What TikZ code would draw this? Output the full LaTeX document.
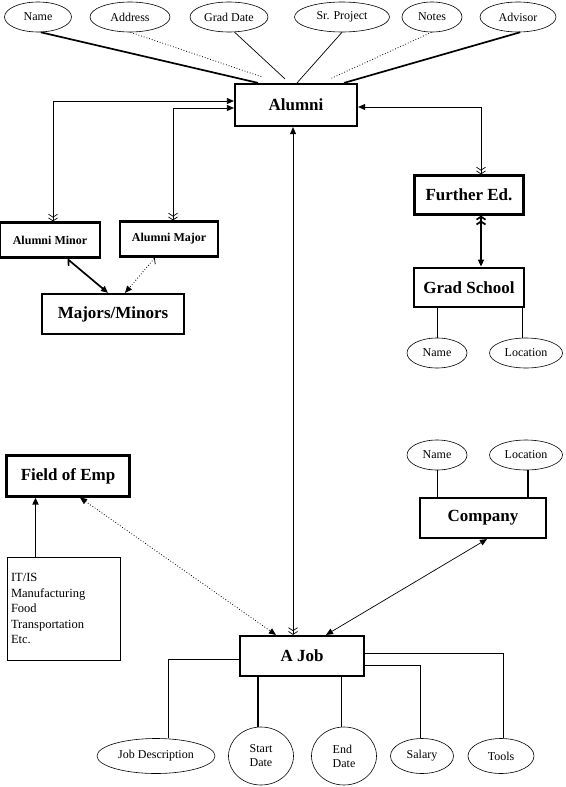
\documentclass[tikz,border=0pt]{standalone}
\usepackage{fontspec}
\setmainfont{Liberation Serif}
\usetikzlibrary{arrows.meta,positioning,shapes.geometric}
\tikzset{
  entity/.style={draw, line width=2.2pt, inner sep=2pt, align=center,
                 font=\fontsize{17}{19}\selectfont\bfseries},
  subentity/.style={entity, font=\fontsize{12}{14}\selectfont\bfseries},
  attr/.style={draw, ellipse, line width=0.6pt, inner sep=0pt,
               font=\fontsize{12}{14}\selectfont},
  rel/.style={line width=0.7pt},
  relthick/.style={line width=1.7pt},
  reldot/.style={line width=0.8pt, dotted}
}
\begin{document}
\begin{tikzpicture}[x=1pt, y=-1pt]
  \useasboundingbox (0,0) rectangle (565,787);
  % entities
  \node[entity, minimum width=122, minimum height=42] (alumni) at (296,105) {Alumni};
  \node[subentity, minimum width=100, minimum height=35] (minor) at (50,240) {Alumni Minor};
  \node[subentity, minimum width=98, minimum height=35] (major) at (169,239) {Alumni Major};
  \node[entity, minimum width=142, minimum height=40] (majmin) at (113,314) {Majors/Minors};
  \node[entity, minimum width=109, minimum height=39] (furthered) at (469,195) {Further Ed.};
  \node[entity, minimum width=110, minimum height=39, below=51pt of furthered] (gradschool) {Grad School};
  \node[entity, minimum width=123, minimum height=41] (fieldemp) at (68,476) {Field of Emp};
  \node[draw, rel, minimum width=113, minimum height=103, text width=105, align=left,
        font=\fontsize{12.5}{15.5}\selectfont] (fieldlist) at (63.5,608.5)
        {IT/IS\\Manufacturing\\Food\\Transportation\\Etc.};
  \node[entity, minimum width=126, minimum height=40] (company) at (483,518) {Company};
  \node[entity, minimum width=124, minimum height=40] (job) at (302,656) {A Job};
  % alumni attributes
  \node[attr, minimum width=67, minimum height=30] (aname) at (38,17) {Name};
  \node[attr, minimum width=80, minimum height=30] (addr) at (130,17) {Address};
  \node[attr, minimum width=78, minimum height=30] (gdate) at (229,17) {Grad Date};
  \node[attr, minimum width=95, minimum height=30] (sproj) at (342,17) {Sr. Project};
  \node[attr, minimum width=60, minimum height=30] (notes) at (432,17) {Notes};
  \node[attr, minimum width=76, minimum height=30] (advisor) at (518,17) {Advisor};
  % grad school and company attributes
  \node[attr, minimum width=60, minimum height=30] (gsname) at (437,353) {Name};
  \node[attr, minimum width=73, minimum height=30] (gsloc) at (526,353) {Location};
  \node[attr, minimum width=60, minimum height=30] (coname) at (437,455) {Name};
  \node[attr, minimum width=73, minimum height=30] (coloc) at (526,455) {Location};
  % job attributes
  \node[attr, minimum width=118, minimum height=35] (jobdesc) at (156,756) {Job Description};
  \node[attr, minimum width=65, minimum height=58, align=left] (start) at (261,756) {Start\\Date};
  \node[attr, minimum width=65, minimum height=58, align=left] (enddate) at (344,756) {End\\Date};
  \node[attr, minimum width=63, minimum height=35] (salary) at (422,756) {Salary};
  \node[attr, minimum width=66, minimum height=35] (tools) at (501,756) {Tools};

  % attribute lines to alumni
  \draw[relthick] (aname.-80) -- ([xshift=-38pt]alumni.north);
  \draw[reldot] (addr.-88) -- ([xshift=-34pt,yshift=6pt]alumni.north);
  \draw[rel] (gdate.-70) -- ([xshift=-11pt,yshift=4pt]alumni.north);
  \draw[rel] (sproj.-90) -- ([xshift=1pt]alumni.north);
  \draw[reldot] (notes.-92) -- ([xshift=34pt,yshift=4pt]alumni.north);
  \draw[relthick] (advisor.-82) -- ([xshift=48pt]alumni.north);

  % relationships
  \draw[rel, {Straight Barb[length=3pt,width=9pt]Straight Barb[length=3pt,width=9pt]}-{Triangle[length=7pt,width=6pt]}]
    ([xshift=3pt]minor.north) |- ([yshift=4pt]alumni.west);
  \draw[rel, {Straight Barb[length=3pt,width=9pt]Straight Barb[length=3pt,width=9pt]}-{Triangle[length=7pt,width=6pt]}]
    ([xshift=4pt]major.north) |- ([yshift=-3pt]alumni.west);
  \draw[relthick, {Straight Barb[left,length=4pt,width=9pt]}-{Triangle[length=7pt,width=6pt]}]
    ([xshift=17pt]minor.south) -- ([xshift=-5pt]majmin.north);
  \draw[reldot, {Straight Barb[right,length=4pt,width=9pt]}-{Triangle[length=7pt,width=6pt]}]
    ([xshift=-14pt]major.south) -- ([xshift=12pt]majmin.north);
  \draw[rel, {Triangle[length=7pt,width=6pt]}-{Straight Barb[length=3pt,width=9pt]Straight Barb[length=3pt,width=9pt]}]
    ([yshift=-2pt]alumni.east) -| ([xshift=12pt]furthered.north);
  \draw[relthick, {Straight Barb[length=3pt,width=9pt]Straight Barb[length=3pt,width=9pt]}-{Triangle[length=7pt,width=6pt]}]
    ([xshift=12pt]furthered.south) -- ([xshift=12pt]gradschool.north);
  \draw[rel, {Triangle[length=7pt,width=6pt]}-{Straight Barb[length=3pt,width=9pt]Straight Barb[length=3pt,width=9pt]}]
    ([xshift=-3pt]alumni.south) -- ([xshift=-9pt]job.north);
  \draw[relthick, -{Triangle[length=7pt,width=6pt]}]
    ([xshift=-28pt]fieldlist.north) -- ([xshift=-28pt]fieldlist.north |- fieldemp.south);
  \draw[reldot, {Triangle[length=7pt,width=6pt]}-{Triangle[length=7pt,width=6pt]}]
    ([xshift=12pt]fieldemp.south) -- ([xshift=-26pt]job.north);
  \draw[rel, {Triangle[length=7pt,width=6pt]}-{Triangle[length=7pt,width=6pt]}]
    ([xshift=4pt]company.south) -- ([xshift=24pt]job.north);

  % attribute lines
  \draw[rel] (gsname.north) -- (gsname.north |- gradschool.south);
  \draw[rel] ([xshift=-4pt]gsloc.north) -- ([xshift=-4pt]gsloc.north |- gradschool.south);
  \draw[rel] (coname.south) -- (coname.south |- company.north);
  \draw[relthick] ([xshift=2pt]coloc.south) -- ([xshift=2pt]coloc.south |- company.north);
  \draw[rel] ([yshift=-3pt]job.west) -| ([xshift=12pt]jobdesc.north);
  \draw[relthick] ([xshift=-3pt]start.north) -- ([xshift=-3pt]start.north |- job.south);
  \draw[rel] ([xshift=-3pt]enddate.north) -- ([xshift=-3pt]enddate.north |- job.south);
  \draw[rel] ([yshift=-9pt]job.east) -| ([xshift=-2pt]salary.north);
  \draw[rel] ([yshift=3pt]job.east) -| ([xshift=2pt]tools.north);
\end{tikzpicture}
\end{document}
